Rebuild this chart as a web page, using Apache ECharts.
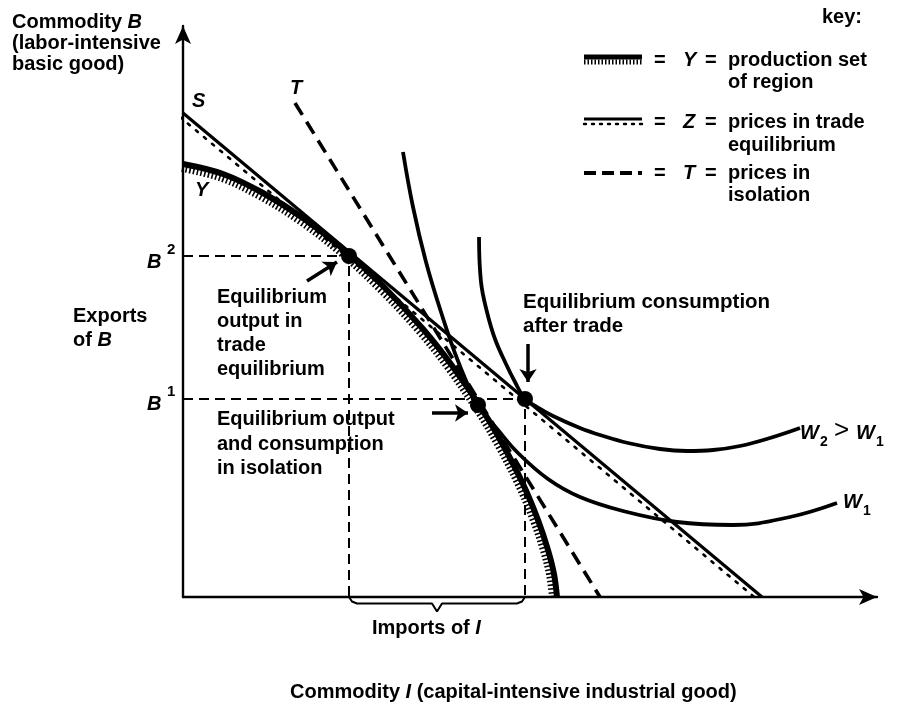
<!DOCTYPE html>
<html><head><meta charset="utf-8">
<script src="https://cdn.jsdelivr.net/npm/echarts@6/dist/echarts.min.js"></script>
<style>html,body{margin:0;padding:0;background:#fff}#c{width:905px;height:708px}</style>
</head><body><div id="c"></div>
<script>
// ---- data (abstract units; axes start at 0) ----
const productionSetY = [[0,43.3],[4,42.3],[8,40.4],[12,37.9],[16,34.8],[20,31.1],[24,26.8],[27,23.0],[30,18.6],[32,15.2],[34,11.3],[35.5,7.7],[36.5,4.7],[37.1,2.3],[37.4,0]];
const tradePriceS = [[0,48.4],[57.9,0]];
const isolationPriceT = [[11.2,49.4],[41.7,0]];
const indifferenceW1 = [[22.0,44.5],[23.0,39.0],[24.3,33.5],[25.8,28.5],[27.5,23.6],[29.5,19.2],[31.5,16.7],[33.5,14.4],[36.5,11.8],[39.7,10.0],[44,8.6],[49.4,7.5],[55,7.2],[60.7,8.0],[65.4,9.4]];
const indifferenceW2 = [[29.6,36.0],[29.8,31.5],[30.4,28.5],[31.2,25.8],[32.3,23.3],[33.2,21.5],[34.2,19.8],[35.4,19.0],[37.0,18.1],[39.7,16.9],[41.7,16.2],[44.5,15.4],[47.7,14.8],[50.4,14.6],[53,14.7],[55.7,15.1],[58.7,15.9],[61.7,16.9]];
const tradeOutput = [16.6, 34.1];       // (I produced, B2)
const isolationPoint = [29.5, 19.2];    // output = consumption in isolation
const tradeConsumption = [34.2, 19.8];  // (I consumed, B1)
const annotationArrows = [
  [[12.4,31.6],[15.4,33.5]],
  [[24.9,18.4],[28.5,18.4]],
  [[34.5,25.3],[34.5,21.5]]
];

// ---- helpers ----
function offsetCurve(pts, d) {
  return pts.map((p, i) => {
    const a = pts[Math.max(0, i - 1)], b = pts[Math.min(pts.length - 1, i + 1)];
    let tx = b[0] - a[0], ty = b[1] - a[1];
    const L = Math.hypot(tx, ty) || 1; tx /= L; ty /= L;
    return [p[0] + ty * d, p[1] - tx * d];
  });
}
const B1 = tradeConsumption[1], B2 = tradeOutput[1];
const xo = tradeOutput[0], xc = tradeConsumption[0];
const midB = (B1 + B2) / 2, midI = (xo + xc) / 2;
const exportsBrace = [[0,B2],[-0.5,B2-0.25],[-1.0,B2-0.8],[-1.0,midB+0.5],[-1.7,midB],[-1.0,midB-0.5],[-1.0,B1+0.8],[-0.5,B1+0.25],[0,B1]];
const importsBrace = [[xo,0],[xo+0.3,-0.45],[xo+0.8,-0.65],[midI-0.5,-0.65],[midI,-1.45],[midI+0.5,-0.65],[xc-0.8,-0.65],[xc-0.3,-0.45],[xc,0]];

const FONT = {fontFamily:'Liberation Sans', fontWeight:'bold', fontSize:20};
const RICH = {i: Object.assign({fontStyle:'italic'}, FONT)};
function T(x, y, text, extra) {
  return {type:'text', x, y, silent:true, z:100,
    style: Object.assign({text, fill:'#000', verticalAlign:'middle', align:'left', rich: RICH}, FONT, extra || {})};
}
function L(x1, y1, x2, y2, st) {
  return {type:'line', silent:true, z:100, shape:{x1, y1, x2, y2}, style: Object.assign({stroke:'#000', lineWidth:2}, st)};
}

const base = {type:'line', showSymbol:false, symbol:'none', silent:true, animation:false};
const chart = echarts.init(document.getElementById('c'), null, {renderer:'canvas'});
chart.setOption({
  backgroundColor:'#fff',
  animation:false,
  grid:{left:183, right:28, top:26, bottom:111, outerBoundsMode:'none', containLabel:false},
  xAxis:{type:'value', min:0, max:69.4, axisLine:{show:true, lineStyle:{color:'#000', width:2.4}, symbol:['none','arrow'], symbolSize:[12,18]}, axisTick:{show:false}, axisLabel:{show:false}, splitLine:{show:false}},
  yAxis:{type:'value', min:0, max:57.1, axisLine:{show:true, lineStyle:{color:'#000', width:2.4}, symbol:['none','arrow'], symbolSize:[12,18]}, axisTick:{show:false}, axisLabel:{show:false}, splitLine:{show:false}},
  series:[
    Object.assign({}, base, {name:'Y hatch', data: offsetCurve(productionSetY, 0.45), smooth:0.35, lineStyle:{color:'#000', width:7, type:[1.6,2.2]}, z:3}),
    Object.assign({}, base, {name:'Y', data: productionSetY, smooth:0.35, lineStyle:{color:'#000', width:6}, z:4}),
    Object.assign({}, base, {name:'Z dots', data: offsetCurve(tradePriceS, 0.5), lineStyle:{color:'#000', width:2.6, type:[2.5,8], cap:'round'}, z:3}),
    Object.assign({}, base, {name:'S', data: tradePriceS, lineStyle:{color:'#000', width:3.2}, z:4}),
    Object.assign({}, base, {name:'T', data: isolationPriceT, lineStyle:{color:'#000', width:3.6, type:[14,8]}, z:4}),
    Object.assign({}, base, {name:'W1', data: indifferenceW1, smooth:0.4, lineStyle:{color:'#000', width:3.8}, z:4}),
    Object.assign({}, base, {name:'W2', data: indifferenceW2, smooth:0.4, lineStyle:{color:'#000', width:3.8}, z:4}),
    Object.assign({}, base, {name:'B2 guide', data:[[0,B2],[xo,B2],[xo,0]], lineStyle:{color:'#000', width:2, type:[10,6]}, z:2}),
    Object.assign({}, base, {name:'B1 guide', data:[[0,B1],[xc,B1],[xc,0]], lineStyle:{color:'#000', width:2, type:[10,6]}, z:2}),
    Object.assign({}, base, {name:'exports brace', data: exportsBrace, clip:false, lineStyle:{color:'#000', width:2}, z:2}),
    Object.assign({}, base, {name:'imports brace', data: importsBrace, clip:false, lineStyle:{color:'#000', width:2}, z:2}),
    {type:'scatter', name:'points', data:[tradeOutput, isolationPoint, tradeConsumption], symbolSize:16, itemStyle:{color:'#000', opacity:1}, silent:true, z:6},
    {type:'lines', coordinateSystem:'cartesian2d', name:'arrows', silent:true, z:6,
      symbol:['none','arrow'], symbolSize:13,
      lineStyle:{color:'#000', width:3.5, opacity:1},
      data: annotationArrows.map(c => ({coords:c}))}
  ],
  graphic:{elements:[
    T(12,22,'Commodity {i|B}'),
    T(12,43,'(labor-intensive'),
    T(12,64,'basic good)'),
    T(192,101,'{i|S}'),
    T(290,88,'{i|T}'),
    T(195,190,'{i|Y}'),
    T(147,262,'{i|B}'), T(167,250,'2',{fontSize:15}),
    T(147,404,'{i|B}'), T(167,392,'1',{fontSize:15}),
    T(73,316,'Exports'), T(73,340,'of {i|B}'),
    T(217,297,'Equilibrium'), T(217,321,'output in'), T(217,345,'trade'), T(217,369,'equilibrium'),
    T(217,419,'Equilibrium output'), T(217,444,'and consumption'), T(217,468,'in isolation'),
    T(523,302,'Equilibrium consumption',{fontSize:20.5}), T(523,326,'after trade',{fontSize:20.5}),
    T(800,433,'{i|W}'), T(820,442,'2',{fontSize:14}), T(834,431,'>',{fontSize:26, fontWeight:'normal'}), T(856,433,'{i|W}'), T(876,442,'1',{fontSize:14}),
    T(843,502,'{i|W}'), T(863,511,'1',{fontSize:14}),
    T(372,628,'Imports of {i|I}'),
    T(290,692,'Commodity {i|I} (capital-intensive industrial good)'),
    // key
    T(822,17,'key:'),
    L(584,57,642,57,{lineWidth:5}),
    L(584,62,642,62,{lineWidth:5, lineDash:[1.5,2]}),
    T(654,60,'='), T(683,60,'{i|Y}'), T(705,60,'='), T(728,60,'production set'), T(728,82,'of region'),
    L(584,119,642,119,{lineWidth:3}),
    L(584,124,642,124,{lineWidth:2.4, lineDash:[2,6], lineCap:'round'}),
    T(654,122,'='), T(683,122,'{i|Z}'), T(705,122,'='), T(728,122,'prices in trade'), T(728,145,'equilibrium'),
    L(584,173,642,173,{lineWidth:4, lineDash:[12,6]}),
    T(654,173,'='), T(683,173,'{i|T}'), T(705,173,'='), T(728,173,'prices in'), T(728,195,'isolation')
  ]}
});
</script></body></html>
